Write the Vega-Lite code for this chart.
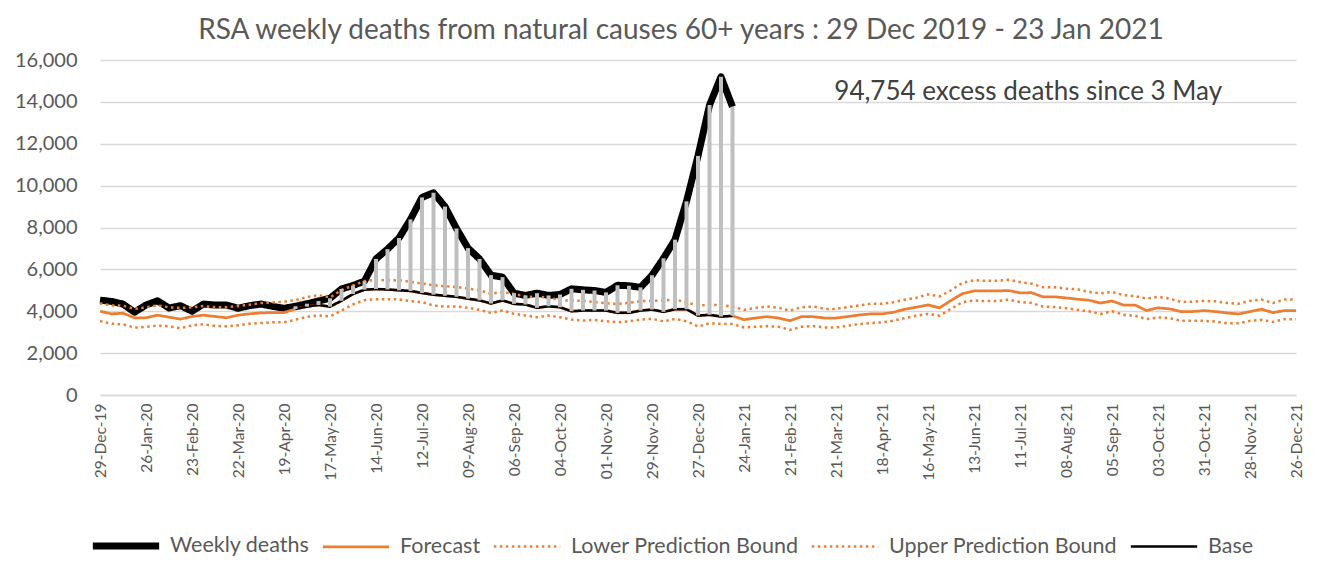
{
  "$schema": "https://vega.github.io/schema/vega-lite/v6.json",
  "width": 1196,
  "height": 335,
  "autosize": {"type": "none"},
  "padding": {"left": 100, "top": 60, "right": 29, "bottom": 168},
  "background": "white",
  "config": {
    "font": "Lato",
    "view": {"stroke": null},
    "axis": {"labelColor": "#595959", "labelFont": "Lato"},
    "legend": {"labelFont": "Lato"}
  },
  "title": {
    "text": "RSA weekly deaths from natural causes 60+ years : 29 Dec 2019 - 23 Jan 2021",
    "fontSize": 28,
    "fontWeight": "normal",
    "color": "#595959",
    "font": "Lato",
    "anchor": "middle",
    "dx": -17,
    "offset": 5
  },
  "datasets": {
    "weeks": [
      {"d":"2019-12-29","weekly":4531,"forecast":4000,"lower":3531,"upper":4375,"base":null},
      {"d":"2020-01-05","weekly":4469,"forecast":3875,"lower":3406,"upper":4281,"base":null},
      {"d":"2020-01-12","weekly":4344,"forecast":3906,"lower":3375,"upper":4266,"base":null},
      {"d":"2020-01-19","weekly":3953,"forecast":3688,"lower":3219,"upper":4109,"base":null},
      {"d":"2020-01-26","weekly":4297,"forecast":3688,"lower":3250,"upper":4188,"base":null},
      {"d":"2020-02-02","weekly":4500,"forecast":3813,"lower":3313,"upper":4281,"base":null},
      {"d":"2020-02-09","weekly":4156,"forecast":3719,"lower":3281,"upper":4188,"base":null},
      {"d":"2020-02-16","weekly":4266,"forecast":3625,"lower":3188,"upper":4156,"base":null},
      {"d":"2020-02-23","weekly":4000,"forecast":3750,"lower":3328,"upper":4188,"base":null},
      {"d":"2020-03-01","weekly":4344,"forecast":3813,"lower":3375,"upper":4250,"base":null},
      {"d":"2020-03-08","weekly":4297,"forecast":3750,"lower":3297,"upper":4188,"base":null},
      {"d":"2020-03-15","weekly":4297,"forecast":3688,"lower":3281,"upper":4188,"base":null},
      {"d":"2020-03-22","weekly":4141,"forecast":3813,"lower":3328,"upper":4250,"base":null},
      {"d":"2020-03-29","weekly":4266,"forecast":3875,"lower":3406,"upper":4313,"base":null},
      {"d":"2020-04-05","weekly":4344,"forecast":3922,"lower":3438,"upper":4391,"base":null},
      {"d":"2020-04-12","weekly":4234,"forecast":3938,"lower":3469,"upper":4422,"base":null},
      {"d":"2020-04-19","weekly":4141,"forecast":3938,"lower":3469,"upper":4453,"base":null},
      {"d":"2020-04-26","weekly":4240,"forecast":4110,"lower":3600,"upper":4531,"base":4110},
      {"d":"2020-05-03","weekly":4360,"forecast":4220,"lower":3730,"upper":4680,"base":4220},
      {"d":"2020-05-10","weekly":4490,"forecast":4300,"lower":3803,"upper":4770,"base":4300},
      {"d":"2020-05-17","weekly":4620,"forecast":4220,"lower":3754,"upper":4656,"base":4220},
      {"d":"2020-05-24","weekly":5065,"forecast":4500,"lower":4033,"upper":5016,"base":4500},
      {"d":"2020-05-31","weekly":5230,"forecast":4820,"lower":4328,"upper":5229,"base":4820},
      {"d":"2020-06-07","weekly":5440,"forecast":5030,"lower":4524,"upper":5442,"base":5030},
      {"d":"2020-06-14","weekly":6500,"forecast":5060,"lower":4574,"upper":5508,"base":5060},
      {"d":"2020-06-21","weekly":6968,"forecast":5040,"lower":4574,"upper":5475,"base":5040},
      {"d":"2020-06-28","weekly":7500,"forecast":5000,"lower":4565,"upper":5484,"base":5000},
      {"d":"2020-07-05","weekly":8387,"forecast":4970,"lower":4484,"upper":5403,"base":4970},
      {"d":"2020-07-12","weekly":9436,"forecast":4871,"lower":4435,"upper":5323,"base":4871},
      {"d":"2020-07-19","weekly":9660,"forecast":4790,"lower":4274,"upper":5242,"base":4790},
      {"d":"2020-07-26","weekly":9000,"forecast":4740,"lower":4226,"upper":5194,"base":4740},
      {"d":"2020-08-02","weekly":7950,"forecast":4690,"lower":4226,"upper":5161,"base":4690},
      {"d":"2020-08-09","weekly":7016,"forecast":4600,"lower":4161,"upper":5081,"base":4600},
      {"d":"2020-08-16","weekly":6500,"forecast":4520,"lower":4065,"upper":5000,"base":4520},
      {"d":"2020-08-23","weekly":5726,"forecast":4370,"lower":3919,"upper":4839,"base":4370},
      {"d":"2020-08-30","weekly":5630,"forecast":4516,"lower":4032,"upper":4919,"base":4516},
      {"d":"2020-09-06","weekly":4865,"forecast":4354,"lower":3876,"upper":4830,"base":4354},
      {"d":"2020-09-13","weekly":4755,"forecast":4321,"lower":3800,"upper":4700,"base":4321},
      {"d":"2020-09-20","weekly":4865,"forecast":4163,"lower":3713,"upper":4680,"base":4163},
      {"d":"2020-09-27","weekly":4755,"forecast":4239,"lower":3794,"upper":4670,"base":4239},
      {"d":"2020-10-04","weekly":4800,"forecast":4191,"lower":3713,"upper":4520,"base":4191},
      {"d":"2020-10-11","weekly":5072,"forecast":4000,"lower":3600,"upper":4510,"base":4000},
      {"d":"2020-10-18","weekly":5024,"forecast":4033,"lower":3555,"upper":4500,"base":4033},
      {"d":"2020-10-25","weekly":4990,"forecast":4033,"lower":3589,"upper":4440,"base":4033},
      {"d":"2020-11-01","weekly":4900,"forecast":4033,"lower":3520,"upper":4380,"base":4033},
      {"d":"2020-11-08","weekly":5240,"forecast":3923,"lower":3474,"upper":4350,"base":3923},
      {"d":"2020-11-15","weekly":5220,"forecast":3923,"lower":3522,"upper":4400,"base":3923},
      {"d":"2020-11-22","weekly":5140,"forecast":4033,"lower":3600,"upper":4480,"base":4033},
      {"d":"2020-11-29","weekly":5720,"forecast":4081,"lower":3636,"upper":4500,"base":4081},
      {"d":"2020-12-06","weekly":6530,"forecast":3971,"lower":3522,"upper":4510,"base":3971},
      {"d":"2020-12-13","weekly":7420,"forecast":4096,"lower":3636,"upper":4560,"base":4096},
      {"d":"2020-12-20","weekly":9250,"forecast":4096,"lower":3520,"upper":4420,"base":4096},
      {"d":"2020-12-27","weekly":11420,"forecast":3794,"lower":3268,"upper":4280,"base":3794},
      {"d":"2021-01-03","weekly":13845,"forecast":3828,"lower":3426,"upper":4300,"base":3828},
      {"d":"2021-01-10","weekly":15200,"forecast":3746,"lower":3400,"upper":4290,"base":3746},
      {"d":"2021-01-17","weekly":13765,"forecast":3780,"lower":3387,"upper":4226,"base":3780},
      {"d":"2021-01-24","weekly":null,"forecast":3597,"lower":3226,"upper":4065,"base":null},
      {"d":"2021-01-31","weekly":null,"forecast":3677,"lower":3258,"upper":4161,"base":null},
      {"d":"2021-02-07","weekly":null,"forecast":3742,"lower":3290,"upper":4226,"base":null},
      {"d":"2021-02-14","weekly":null,"forecast":3677,"lower":3258,"upper":4161,"base":null},
      {"d":"2021-02-21","weekly":null,"forecast":3548,"lower":3113,"upper":4032,"base":null},
      {"d":"2021-02-28","weekly":null,"forecast":3742,"lower":3258,"upper":4194,"base":null},
      {"d":"2021-03-07","weekly":null,"forecast":3742,"lower":3290,"upper":4226,"base":null},
      {"d":"2021-03-14","weekly":null,"forecast":3677,"lower":3226,"upper":4113,"base":null},
      {"d":"2021-03-21","weekly":null,"forecast":3677,"lower":3226,"upper":4113,"base":null},
      {"d":"2021-03-28","weekly":null,"forecast":3742,"lower":3306,"upper":4194,"base":null},
      {"d":"2021-04-04","weekly":null,"forecast":3823,"lower":3387,"upper":4274,"base":null},
      {"d":"2021-04-11","weekly":null,"forecast":3871,"lower":3435,"upper":4355,"base":null},
      {"d":"2021-04-18","weekly":null,"forecast":3871,"lower":3468,"upper":4355,"base":null},
      {"d":"2021-04-25","weekly":null,"forecast":3952,"lower":3548,"upper":4435,"base":null},
      {"d":"2021-05-02","weekly":null,"forecast":4097,"lower":3677,"upper":4548,"base":null},
      {"d":"2021-05-09","weekly":null,"forecast":4194,"lower":3790,"upper":4645,"base":null},
      {"d":"2021-05-16","weekly":null,"forecast":4306,"lower":3871,"upper":4806,"base":null},
      {"d":"2021-05-23","weekly":null,"forecast":4161,"lower":3790,"upper":4710,"base":null},
      {"d":"2021-05-30","weekly":null,"forecast":4516,"lower":4113,"upper":5000,"base":null},
      {"d":"2021-06-06","weekly":null,"forecast":4839,"lower":4435,"upper":5355,"base":null},
      {"d":"2021-06-13","weekly":null,"forecast":4968,"lower":4516,"upper":5484,"base":null},
      {"d":"2021-06-20","weekly":null,"forecast":4968,"lower":4484,"upper":5452,"base":null},
      {"d":"2021-06-27","weekly":null,"forecast":4968,"lower":4484,"upper":5452,"base":null},
      {"d":"2021-07-04","weekly":null,"forecast":4990,"lower":4557,"upper":5500,"base":null},
      {"d":"2021-07-11","weekly":null,"forecast":4880,"lower":4440,"upper":5400,"base":null},
      {"d":"2021-07-18","weekly":null,"forecast":4885,"lower":4393,"upper":5311,"base":null},
      {"d":"2021-07-25","weekly":null,"forecast":4688,"lower":4229,"upper":5147,"base":null},
      {"d":"2021-08-01","weekly":null,"forecast":4688,"lower":4197,"upper":5147,"base":null},
      {"d":"2021-08-08","weekly":null,"forecast":4639,"lower":4148,"upper":5082,"base":null},
      {"d":"2021-08-15","weekly":null,"forecast":4574,"lower":4066,"upper":5049,"base":null},
      {"d":"2021-08-22","weekly":null,"forecast":4525,"lower":4000,"upper":4918,"base":null},
      {"d":"2021-08-29","weekly":null,"forecast":4393,"lower":3869,"upper":4852,"base":null},
      {"d":"2021-09-05","weekly":null,"forecast":4492,"lower":4000,"upper":4918,"base":null},
      {"d":"2021-09-12","weekly":null,"forecast":4295,"lower":3836,"upper":4770,"base":null},
      {"d":"2021-09-19","weekly":null,"forecast":4295,"lower":3787,"upper":4721,"base":null},
      {"d":"2021-09-26","weekly":null,"forecast":4033,"lower":3623,"upper":4606,"base":null},
      {"d":"2021-10-03","weekly":null,"forecast":4164,"lower":3705,"upper":4688,"base":null},
      {"d":"2021-10-10","weekly":null,"forecast":4115,"lower":3672,"upper":4606,"base":null},
      {"d":"2021-10-17","weekly":null,"forecast":3984,"lower":3541,"upper":4443,"base":null},
      {"d":"2021-10-24","weekly":null,"forecast":3984,"lower":3541,"upper":4459,"base":null},
      {"d":"2021-10-31","weekly":null,"forecast":4033,"lower":3541,"upper":4492,"base":null},
      {"d":"2021-11-07","weekly":null,"forecast":3984,"lower":3508,"upper":4475,"base":null},
      {"d":"2021-11-14","weekly":null,"forecast":3918,"lower":3426,"upper":4393,"base":null},
      {"d":"2021-11-21","weekly":null,"forecast":3869,"lower":3426,"upper":4361,"base":null},
      {"d":"2021-11-28","weekly":null,"forecast":3984,"lower":3541,"upper":4492,"base":null},
      {"d":"2021-12-05","weekly":null,"forecast":4098,"lower":3590,"upper":4557,"base":null},
      {"d":"2021-12-12","weekly":null,"forecast":3934,"lower":3492,"upper":4393,"base":null},
      {"d":"2021-12-19","weekly":null,"forecast":4033,"lower":3623,"upper":4557,"base":null},
      {"d":"2021-12-26","weekly":null,"forecast":4033,"lower":3623,"upper":4557,"base":null}
    ],
    "note": [
      {"d":"2021-07-16","value":14470,"label":"94,754 excess deaths since 3 May"}
    ]
  },
  "encoding": {
    "x": {
      "field": "d",
      "type": "temporal",
      "scale": {
        "type": "utc",
        "domain": [
          {"year": 2019, "month": 12, "date": 29, "utc": true},
          {"year": 2021, "month": 12, "date": 26, "utc": true}
        ]
      },
      "axis": {
        "title": null,
        "format": "%d-%b-%y",
        "labelAngle": 270,
        "labelFontSize": 15.5,
        "labelPadding": 8,
        "ticks": false,
        "grid": false,
        "domain": true,
        "domainColor": "#D9D9D9",
        "domainWidth": 1.5,
        "labelOverlap": false,
        "labelFlush": false,
        "values": [
          {"year": 2019, "month": 12, "date": 29, "utc": true},
          {"year": 2020, "month": 1, "date": 26, "utc": true},
          {"year": 2020, "month": 2, "date": 23, "utc": true},
          {"year": 2020, "month": 3, "date": 22, "utc": true},
          {"year": 2020, "month": 4, "date": 19, "utc": true},
          {"year": 2020, "month": 5, "date": 17, "utc": true},
          {"year": 2020, "month": 6, "date": 14, "utc": true},
          {"year": 2020, "month": 7, "date": 12, "utc": true},
          {"year": 2020, "month": 8, "date": 9, "utc": true},
          {"year": 2020, "month": 9, "date": 6, "utc": true},
          {"year": 2020, "month": 10, "date": 4, "utc": true},
          {"year": 2020, "month": 11, "date": 1, "utc": true},
          {"year": 2020, "month": 11, "date": 29, "utc": true},
          {"year": 2020, "month": 12, "date": 27, "utc": true},
          {"year": 2021, "month": 1, "date": 24, "utc": true},
          {"year": 2021, "month": 2, "date": 21, "utc": true},
          {"year": 2021, "month": 3, "date": 21, "utc": true},
          {"year": 2021, "month": 4, "date": 18, "utc": true},
          {"year": 2021, "month": 5, "date": 16, "utc": true},
          {"year": 2021, "month": 6, "date": 13, "utc": true},
          {"year": 2021, "month": 7, "date": 11, "utc": true},
          {"year": 2021, "month": 8, "date": 8, "utc": true},
          {"year": 2021, "month": 9, "date": 5, "utc": true},
          {"year": 2021, "month": 10, "date": 3, "utc": true},
          {"year": 2021, "month": 10, "date": 31, "utc": true},
          {"year": 2021, "month": 11, "date": 28, "utc": true},
          {"year": 2021, "month": 12, "date": 26, "utc": true}
        ]
      }
    }
  },
  "layer": [
    {
      "data": {"name": "weeks"},
      "transform": [
        {"fold": ["weekly", "forecast", "lower", "upper", "base"], "as": ["series", "value"]},
        {"filter": "datum.value != null"}
      ],
      "mark": {"type": "line", "strokeCap": "butt", "strokeJoin": "round"},
      "encoding": {
        "y": {
          "field": "value",
          "type": "quantitative",
          "scale": {"domain": [0, 16000], "nice": false},
          "axis": {
            "title": null,
            "values": [0, 2000, 4000, 6000, 8000, 10000, 12000, 14000, 16000],
            "format": ",d",
            "labelFontSize": 20,
            "labelPadding": 23,
            "ticks": false,
            "domain": false,
            "grid": true,
            "gridColor": "#D9D9D9",
            "gridWidth": 1.5
          }
        },
        "color": {
          "field": "series",
          "type": "nominal",
          "scale": {
            "domain": ["weekly", "forecast", "lower", "upper", "base"],
            "range": ["#000000", "#ED7D31", "#ED7D31", "#ED7D31", "#000000"]
          },
          "legend": {
            "title": null,
            "orient": "none",
            "legendX": -11,
            "legendY": 449,
            "direction": "horizontal",
            "columns": 5,
            "columnPadding": 7,
            "symbolType": "stroke",
            "symbolSize": 4400,
            "labelOffset": 7,
            "labelFontSize": 21.5,
            "labelColor": "#595959",
            "labelLimit": 400,
            "labelExpr": "datum.label == 'weekly' ? 'Weekly deaths' : datum.label == 'forecast' ? 'Forecast' : datum.label == 'lower' ? 'Lower Prediction Bound' : datum.label == 'upper' ? 'Upper Prediction Bound' : 'Base'"
          }
        },
        "strokeDash": {
          "field": "series",
          "type": "nominal",
          "scale": {
            "domain": ["weekly", "forecast", "lower", "upper", "base"],
            "range": [[1, 0], [1, 0], [2.5, 3.5], [2.5, 3.5], [1, 0]]
          },
          "legend": {
            "title": null,
            "orient": "none",
            "legendX": -11,
            "legendY": 449,
            "direction": "horizontal",
            "columns": 5,
            "columnPadding": 7,
            "symbolType": "stroke",
            "symbolSize": 4400,
            "labelOffset": 7,
            "labelFontSize": 21.5,
            "labelColor": "#595959",
            "labelLimit": 400,
            "labelExpr": "datum.label == 'weekly' ? 'Weekly deaths' : datum.label == 'forecast' ? 'Forecast' : datum.label == 'lower' ? 'Lower Prediction Bound' : datum.label == 'upper' ? 'Upper Prediction Bound' : 'Base'"
          }
        },
        "strokeWidth": {
          "field": "series",
          "type": "nominal",
          "scale": {
            "type": "ordinal",
            "domain": ["weekly", "forecast", "lower", "upper", "base"],
            "range": [7, 2.75, 2.5, 2.5, 2.5]
          },
          "legend": {
            "title": null,
            "orient": "none",
            "legendX": -11,
            "legendY": 449,
            "direction": "horizontal",
            "columns": 5,
            "columnPadding": 7,
            "symbolType": "stroke",
            "symbolSize": 4400,
            "labelOffset": 7,
            "labelFontSize": 21.5,
            "labelColor": "#595959",
            "labelLimit": 400,
            "labelExpr": "datum.label == 'weekly' ? 'Weekly deaths' : datum.label == 'forecast' ? 'Forecast' : datum.label == 'lower' ? 'Lower Prediction Bound' : datum.label == 'upper' ? 'Upper Prediction Bound' : 'Base'"
          }
        }
      }
    },
    {
      "data": {"name": "weeks"},
      "transform": [{"filter": "datum.base != null && datum.weekly != null"}],
      "mark": {"type": "rule", "color": "#BFBFBF", "strokeWidth": 4},
      "encoding": {
        "y": {"field": "base", "type": "quantitative"},
        "y2": {"field": "weekly"}
      }
    },
    {
      "data": {"name": "note"},
      "mark": {"type": "text", "fontSize": 26, "color": "#404040", "font": "Lato", "align": "center", "baseline": "middle"},
      "encoding": {
        "y": {"field": "value", "type": "quantitative"},
        "text": {"field": "label"}
      }
    }
  ]
}
